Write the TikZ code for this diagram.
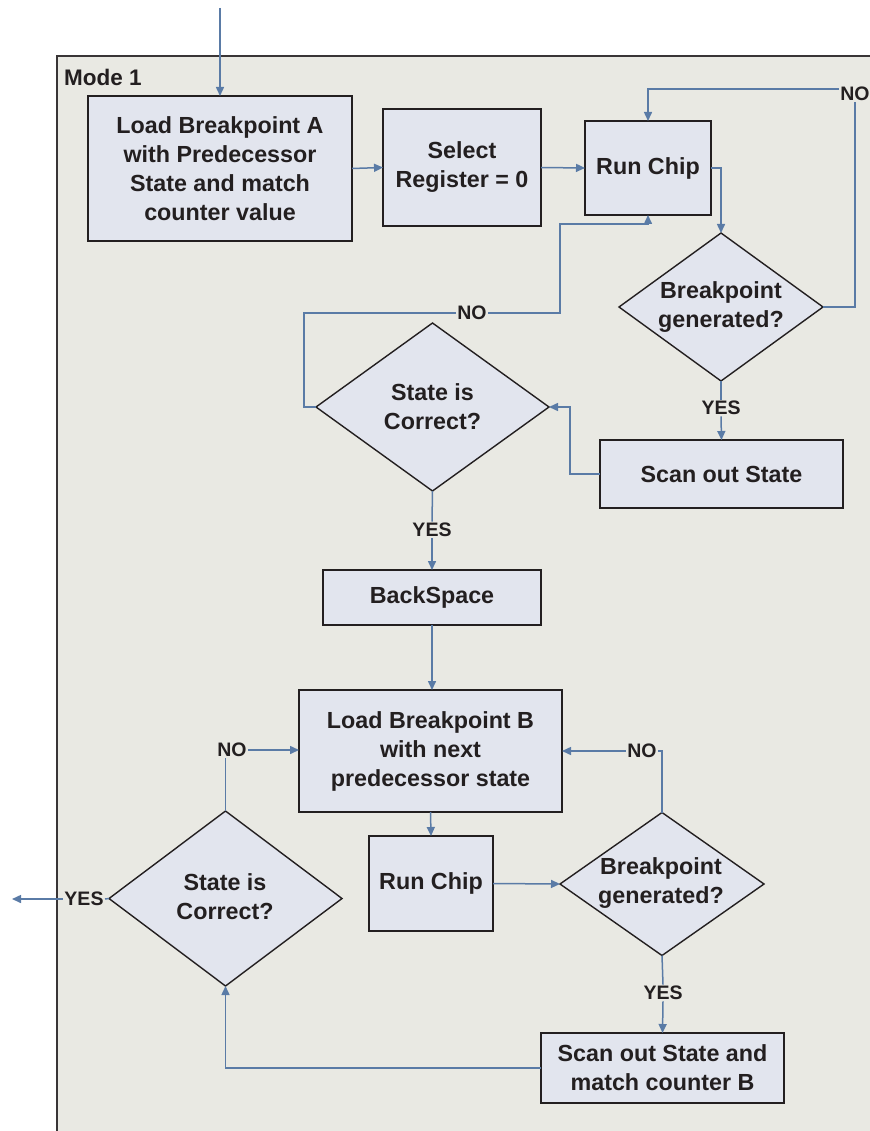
\documentclass[tikz,border=0pt]{standalone}
\usepackage{fontspec}
\setmainfont{Liberation Sans}
\usetikzlibrary{shapes.geometric,arrows.meta}
\definecolor{panel}{HTML}{E9E9E3}
\definecolor{boxfill}{HTML}{E2E5EE}
\definecolor{flow}{HTML}{5A7BA6}
\definecolor{ink}{HTML}{231F20}
\begin{document}
\begin{tikzpicture}[x=1pt,y=-1pt,
  txt/.style={font=\fontsize{23.3}{29}\selectfont\bfseries, text=ink, align=center},
  box/.style={txt, draw=ink, line width=1.8pt, fill=boxfill, inner sep=0pt, outer sep=0pt},
  decision/.style={shape=diamond, draw=ink, line width=1.4pt, fill=boxfill, inner sep=0pt, outer sep=0pt},
  tag/.style={font=\fontsize{19.5}{22}\selectfont\bfseries, text=ink, inner sep=1.5pt, outer sep=0pt},
  flowline/.style={draw=flow, line width=1.5pt},
  arr/.style={flowline, -{Triangle[length=9pt,width=8pt]}}
]
\useasboundingbox (0,0) rectangle (869,1131);

% Mode 1 panel (open to the right and bottom)
\fill[panel] (57,56) rectangle (880,1140);
\draw[ink!90, line width=1.6pt] (880,56) -- (57,56) -- (57,1140);
\node[anchor=west, font=\fontsize{22.5}{26}\selectfont\bfseries, text=ink, inner sep=0pt] (mode) at (64,77) {Mode 1};

% upper loop
\node[box, minimum width=264pt, minimum height=145pt] (loadA) at (220,168.5) {Load Breakpoint A\\with Predecessor\\State and match\\counter value};
\node[box, minimum width=158pt, minimum height=117pt] (sel) at (462,167.5) {Select\\Register = 0};
\node[box, minimum width=126pt, minimum height=94pt] (run1) at (648,168) {Run Chip};
\node[decision, minimum width=204pt, minimum height=148pt] (d1) at (721,307) {};
\node[txt] (d1t) at (d1.center) {Breakpoint\\generated?};
\node[box, minimum width=243pt, minimum height=68pt] (scan1) at (721.5,474) {Scan out State};
\node[decision, minimum width=233pt, minimum height=168pt] (d2) at (432.5,407) {};
\node[txt] (d2t) at (d2.center) {State is\\Correct?};
\node[box, minimum width=218pt, minimum height=55pt] (bs) at (432,597.5) {BackSpace};

% lower loop
\node[box, minimum width=263pt, minimum height=122pt] (loadB) at (430.5,751) {Load Breakpoint B\\with next\\predecessor state};
\node[box, minimum width=124pt, minimum height=95pt] (run2) at (431,883.5) {Run Chip};
\node[decision, minimum width=204pt, minimum height=143pt] (d3) at (662,884) {};
\node[txt] (d3t) at (661,883.5) {Breakpoint\\generated?};
\node[box, minimum width=243pt, minimum height=70pt] (scanB) at (662.5,1068) {Scan out State and\\match counter B};
\node[decision, minimum width=233pt, minimum height=175pt] (d4) at (225.5,898.5) {};
\node[txt] (d4t) at (225,897) {State is\\Correct?};

% branch labels
\node[tag] (no1) at (855,94) {NO};
\node[tag] (no2) at (472,313) {NO};
\node[tag] (yes1) at (721,408) {YES};
\node[tag] (yes2) at (432,530) {YES};
\node[tag] (no3) at (642,751) {NO};
\node[tag] (no4) at (232,750) {NO};
\node[tag] (yes3) at (663,993) {YES};
\node[tag] (yes4) at (84,899) {YES};

\coordinate (src) at (220,8);
\coordinate (exit) at (12,899);

% connectors
\draw[arr] (src) -- (loadA.north);
\draw[arr] (loadA.east) -- (sel.west);
\draw[arr] (sel.east) -- (run1.west);
\draw[arr] (run1.east) -| (d1.north);
\draw[flowline] (d1.east) -| (no1.south);
\draw[arr] ([yshift=5pt]no1.west) -| (run1.north);
\draw[flowline] (d1.south) -- (yes1.north);
\draw[arr] (yes1.south) -- (scan1.north);
\draw[arr] (scan1.west) -- ++(-30,0) |- (d2.east);
\draw[flowline] (d2.west) -- ++(-12,0) |- (no2.west);
\draw[arr] (no2.east) -| ++(72,-89) -| (run1.south);
\draw[flowline] (d2.south) -- (yes2.north);
\draw[arr] (yes2.south) -- (bs.north);
\draw[arr] (bs.south) -- (bs.south |- loadB.north);
\draw[arr] (loadB.south) -- (run2.north);
\draw[arr] (run2.east) -- (d3.west);
\draw[flowline] (d3.north) |- (no3.east);
\draw[arr] (no3.west) -- (loadB.east |- no3.west);
\draw[flowline] (d3.south) -- (yes3.north);
\draw[arr] (yes3.south) -- (scanB.north);
\draw[arr] (scanB.west) -| (d4.south);
\draw[flowline] (d4.north) -- (d4.north |- no4.south);
\draw[arr] (no4.east) -- (loadB.west |- no4.east);
\draw[flowline] (d4.west) -- (yes4.east);
\draw[arr] (yes4.west) -- (exit);
\end{tikzpicture}
\end{document}
